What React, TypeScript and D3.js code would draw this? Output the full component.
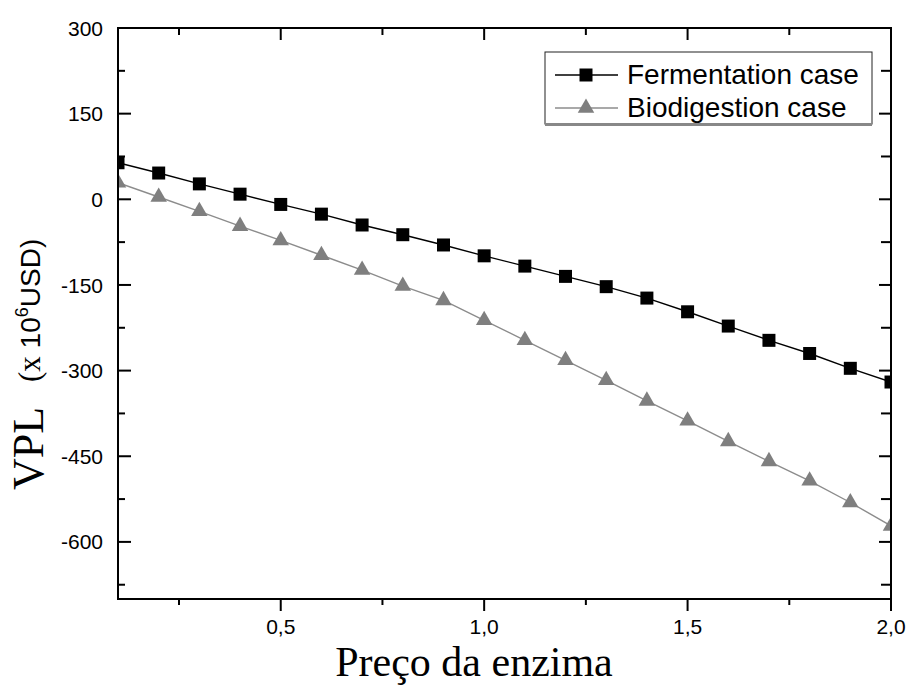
import React from 'react';
import * as d3 from 'd3';

// Enzyme price (x) and net present value (VPL, millions USD) for each case
const prices = [0.1, 0.2, 0.3, 0.4, 0.5, 0.6, 0.7, 0.8, 0.9, 1.0, 1.1, 1.2, 1.3, 1.4, 1.5, 1.6, 1.7, 1.8, 1.9, 2.0];
const fermentation = [64, 46, 27, 9, -9, -26, -45, -62, -80, -99, -117, -135, -153, -173, -197, -222, -247, -270, -296, -320];
const biodigestion = [29, 4, -21, -47, -72, -98, -124, -152, -177, -212, -247, -282, -317, -353, -388, -424, -459, -493, -531, -572];
const seriesNames = ['Fermentation case', 'Biodigestion case'];

const xMajorTicks = [0.5, 1.0, 1.5, 2.0];
const xMinorTicks = [0.25, 0.75, 1.25, 1.75];
const yMajorTicks = [300, 150, 0, -150, -300, -450, -600];
const yMinorTicks = [225, 75, -75, -225, -375, -525, -675];

const W = 909;
const H = 686;
const left = 118;
const right = 891;
const top = 28;
const bottom = 599;

const sans = "'Liberation Sans', Arial, sans-serif";
const serif = "'Liberation Serif', 'Times New Roman', serif";

export default function App() {
  const x = d3.scaleLinear().domain([0.1, 2.0]).range([left, right]);
  const y = d3.scaleLinear().domain([-700, 300]).range([bottom, top]);

  const ferm = prices.map((p, i) => [p, fermentation[i]] as [number, number]);
  const bio = prices.map((p, i) => [p, biodigestion[i]] as [number, number]);

  const line = d3.line<[number, number]>().x(d => x(d[0])).y(d => y(d[1]));
  const square = d3.symbol(d3.symbolSquare, 169)() as string;
  const triangle = d3.symbol(d3.symbolTriangle, 118)() as string;

  const fmtX = (v: number) => d3.format('.1f')(v).replace('.', ',');

  return (
    <svg width={W} height={H} style={{ position: 'absolute', left: 0, top: 0, background: '#fff' }}>
      <defs>
        <clipPath id="plotClip">
          <rect x={left} y={top} width={right - left} height={bottom - top} />
        </clipPath>
      </defs>
      <rect x={0} y={0} width={W} height={H} fill="#fff" />

      {/* series */}
      <g clipPath="url(#plotClip)">
        <path d={line(bio) as string} fill="none" stroke="#8c8c8c" strokeWidth={1.4} />
        {bio.map((d, i) => (
          <path key={'b' + i} d={triangle} transform={`translate(${x(d[0])},${y(d[1])})`} fill="#7f7f7f" />
        ))}
        <path d={line(ferm) as string} fill="none" stroke="#000" strokeWidth={1.4} />
        {ferm.map((d, i) => (
          <path key={'f' + i} d={square} transform={`translate(${x(d[0])},${y(d[1])})`} fill="#000" />
        ))}
      </g>

      {/* frame */}
      <rect x={left} y={top} width={right - left} height={bottom - top} fill="none" stroke="#000" strokeWidth={2} />

      {/* bottom axis: outward ticks */}
      {xMajorTicks.map(t => (
        <line key={'xb' + t} x1={x(t)} x2={x(t)} y1={bottom} y2={bottom + 12} stroke="#000" strokeWidth={2} />
      ))}
      {xMinorTicks.map(t => (
        <line key={'xbm' + t} x1={x(t)} x2={x(t)} y1={bottom} y2={bottom + 6} stroke="#000" strokeWidth={2} />
      ))}
      {/* top axis: inward ticks */}
      {xMajorTicks.map(t => (
        <line key={'xt' + t} x1={x(t)} x2={x(t)} y1={top} y2={top + 12} stroke="#000" strokeWidth={2} />
      ))}
      {xMinorTicks.map(t => (
        <line key={'xtm' + t} x1={x(t)} x2={x(t)} y1={top} y2={top + 7} stroke="#000" strokeWidth={2} />
      ))}
      {/* left and right axes: inward ticks */}
      {yMajorTicks.map(t => (
        <g key={'y' + t}>
          <line x1={left} x2={left + 13} y1={y(t)} y2={y(t)} stroke="#000" strokeWidth={2} />
          <line x1={right} x2={right - 12} y1={y(t)} y2={y(t)} stroke="#000" strokeWidth={2} />
        </g>
      ))}
      {yMinorTicks.map(t => (
        <g key={'ym' + t}>
          <line x1={left} x2={left + 7} y1={y(t)} y2={y(t)} stroke="#000" strokeWidth={2} />
          <line x1={right} x2={right - 10} y1={y(t)} y2={y(t)} stroke="#000" strokeWidth={2} />
        </g>
      ))}

      {/* tick labels */}
      {yMajorTicks.map(t => (
        <text key={'yl' + t} x={103} y={y(t)} dy="0.36em" textAnchor="end" fontFamily={sans} fontSize={21} fill="#000">
          {String(t)}
        </text>
      ))}
      {xMajorTicks.map(t => (
        <text key={'xl' + t} x={x(t)} y={634} textAnchor="middle" fontFamily={sans} fontSize={21} fill="#000">
          {fmtX(t)}
        </text>
      ))}

      {/* axis titles */}
      <text x={474} y={676} textAnchor="middle" fontFamily={serif} fontSize={42} fill="#000">
        Preço da enzima
      </text>
      <text transform="translate(43,490) rotate(-90)" fontFamily={serif} fontSize={44} fill="#000">
        VPL
      </text>
      <text transform="translate(40,382) rotate(-90)" fontFamily={sans} fontSize={28} fill="#000">
        <tspan fontFamily={serif} fontSize={31}>(x</tspan>
        <tspan> 10</tspan>
        <tspan fontSize={18} dy={-12}>6</tspan>
        <tspan dy={12}>USD)</tspan>
      </text>

      {/* legend */}
      <g>
        <rect x={545} y={52} width={327} height={72} fill="#fff" stroke="#222" strokeWidth={1} />
        <line x1={545} x2={872} y1={124.5} y2={124.5} stroke="#888" strokeWidth={3} />
        <line x1={555} x2={618} y1={75} y2={75} stroke="#000" strokeWidth={1.4} />
        <path d={square} transform="translate(586,75)" fill="#000" />
        <text x={627} y={84} fontFamily={sans} fontSize={28} fill="#000">{seriesNames[0]}</text>
        <line x1={555} x2={618} y1={108} y2={108} stroke="#8c8c8c" strokeWidth={1.4} />
        <path d={triangle} transform="translate(586,108)" fill="#7f7f7f" />
        <text x={627} y={117} fontFamily={sans} fontSize={28} fill="#000">{seriesNames[1]}</text>
      </g>
    </svg>
  );
}
